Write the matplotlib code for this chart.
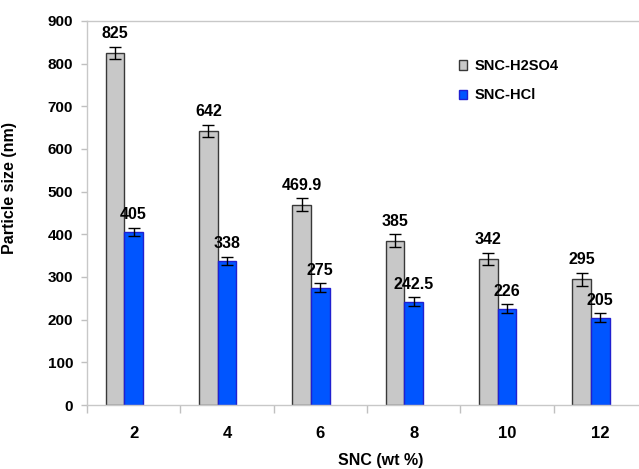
import numpy as np
import matplotlib.pyplot as plt

# ── Data ───────────────────────────────────────────────────
snc_wt   = ["2", "4", "6", "8", "10", "12"]
h2so4    = [825, 642, 469.9, 385, 342, 295]
hcl      = [405, 338, 275, 242.5, 226, 205]
h2so4_er = [15, 15, 15, 15, 15, 15]
hcl_er   = [10, 10, 10, 10, 10, 10]
h2so4_lb = ["825", "642", "469.9", "385", "342", "295"]
hcl_lb   = ["405", "338", "275", "242.5", "226", "205"]

plt.rcParams['font.family'] = ['Liberation Sans', 'DejaVu Sans']
plt.rcParams['font.weight'] = 'bold'

fig = plt.figure(figsize=(6.39, 4.69), dpi=100)
ax = fig.add_axes([87/639, 1 - 405/469, 560/639, 384/469])

x = np.arange(len(snc_wt))
w = 0.2
grey_c, grey_e = '#C8C8C8', '#383838'
blue_c, blue_e = '#0055FF', '#2020D0'

ax.bar(x - w, h2so4, w, color=grey_c, edgecolor=grey_e, linewidth=1.0,
       label='SNC-H2SO4', zorder=2)
ax.bar(x, hcl, w, color=blue_c, edgecolor=blue_e, linewidth=1.0,
       label='SNC-HCl', zorder=2)
ax.errorbar(x - w, h2so4, yerr=h2so4_er, fmt='none', ecolor='black',
            elinewidth=1, capsize=4, capthick=1, zorder=3)
ax.errorbar(x, hcl, yerr=hcl_er, fmt='none', ecolor='black',
            elinewidth=1, capsize=4, capthick=1, zorder=3)

for i in range(len(x)):
    ax.annotate(h2so4_lb[i], (x[i] - w, h2so4[i] + h2so4_er[i]),
                xytext=(0, 4), textcoords='offset points',
                ha='center', va='bottom', fontsize=11.5, fontweight='bold')
    ax.annotate(hcl_lb[i], (x[i], hcl[i] + hcl_er[i]),
                xytext=(0, 4), textcoords='offset points',
                ha='center', va='bottom', fontsize=11.5, fontweight='bold')

ax.set_xlim(-0.5, len(x) - 0.5)
ax.set_ylim(0, 900)
ax.set_yticks(np.arange(0, 901, 100))
ax.set_xticks(x)
ax.set_xticklabels(snc_wt)
ax.set_xticks(np.arange(-0.5, len(x), 1.0), minor=True)

ax.tick_params(axis='x', which='major', length=0, pad=15, labelsize=12)
ax.tick_params(axis='x', which='minor', length=6, color='#C0C0C0', width=1)
ax.tick_params(axis='y', length=4, color='#C0C0C0', width=1, labelsize=11, pad=6)
for lbl in ax.get_xticklabels() + ax.get_yticklabels():
    lbl.set_fontweight('bold')

for s in ['left', 'bottom', 'top', 'right']:
    ax.spines[s].set_color('#C8C8C8')
    ax.spines[s].set_linewidth(1.0)

ax.set_xlabel("SNC (wt %)", fontsize=11.5, fontweight='bold')
ax.set_ylabel("Particle size (nm)", fontsize=11.5, fontweight='bold')
ax.xaxis.set_label_coords(0.525, -0.125)
ax.yaxis.set_label_coords(-0.125, 0.565)

ax.legend(loc='upper left', bbox_to_anchor=(0.64, 0.935), frameon=False,
          prop={'weight': 'bold', 'size': 10.5}, handlelength=0.6,
          handleheight=0.6, handletextpad=0.5, labelspacing=1.05)

fig.savefig("out.png", dpi=100, facecolor='white')
